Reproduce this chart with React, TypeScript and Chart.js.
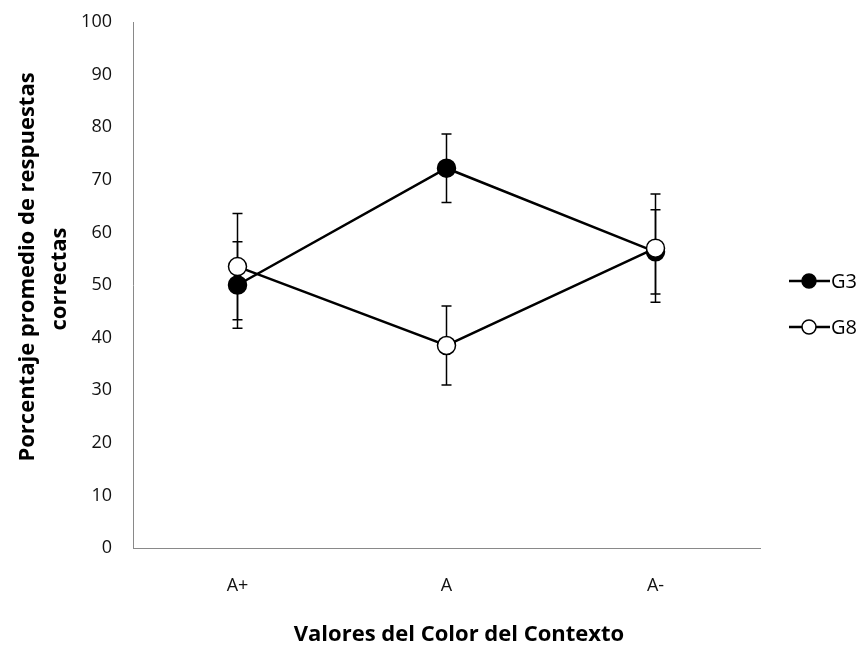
import React, { useEffect, useRef } from 'react';
import { Chart, registerables } from 'chart.js';

Chart.register(...registerables);

const categories = ['A+', 'A', 'A-'];
const seriesNames = ['G3', 'G8'];
const g3Values = [50, 72.2, 56.3];
const g3Errors = [8.2, 6.5, 8.0];
const g8Values = [53.5, 38.5, 57.0];
const g8Errors = [10.1, 7.5, 10.3];
const yMin = 0;
const yMax = 100;
const yStep = 10;
const xTitle = 'Valores del Color del Contexto';
const yTitleLines = ['Porcentaje promedio de respuestas', 'correctas'];

const FONT = "'Open Sans', 'Noto Sans', sans-serif";

const errorBarsPlugin = {
  id: 'errorBars',
  beforeDatasetsDraw(chart: any) {
    const ctx = chart.ctx;
    const yScale = chart.scales.y;
    const errs = [g3Errors, g8Errors];
    ctx.save();
    ctx.strokeStyle = '#000';
    ctx.lineWidth = 1.5;
    chart.data.datasets.forEach((ds: any, di: number) => {
      const meta = chart.getDatasetMeta(di);
      meta.data.forEach((pt: any, i: number) => {
        const v = ds.data[i];
        const e = errs[di][i];
        const x = pt.x;
        const yt = yScale.getPixelForValue(v + e);
        const yb = yScale.getPixelForValue(v - e);
        ctx.beginPath();
        ctx.moveTo(x, yt);
        ctx.lineTo(x, yb);
        ctx.moveTo(x - 5, yt);
        ctx.lineTo(x + 5, yt);
        ctx.moveTo(x - 5, yb);
        ctx.lineTo(x + 5, yb);
        ctx.stroke();
      });
    });
    ctx.restore();
  },
};

const titlesLegendPlugin = {
  id: 'titlesLegend',
  afterDraw(chart: any) {
    const ctx = chart.ctx;
    ctx.save();
    ctx.fillStyle = '#000';
    // x title
    ctx.font = `bold 22px ${FONT}`;
    ctx.textAlign = 'center';
    ctx.textBaseline = 'alphabetic';
    ctx.fillText(xTitle, 459, 641);
    // y title
    const yLinePos = [
      { x: 34, y: 267 },
      { x: 66, y: 279 },
    ];
    yTitleLines.forEach((t, i) => {
      ctx.save();
      ctx.translate(yLinePos[i].x, yLinePos[i].y);
      ctx.rotate(-Math.PI / 2);
      ctx.fillText(t, 0, 0);
      ctx.restore();
    });
    // legend
    const legendY = [281, 327];
    chart.data.datasets.forEach((ds: any, i: number) => {
      const y = legendY[i];
      ctx.strokeStyle = '#000';
      ctx.lineWidth = 2.5;
      ctx.beginPath();
      ctx.moveTo(789, y);
      ctx.lineTo(830, y);
      ctx.stroke();
      ctx.beginPath();
      ctx.arc(809, y, 7, 0, Math.PI * 2);
      ctx.fillStyle = ds.pointBackgroundColor;
      ctx.fill();
      ctx.lineWidth = 1.5;
      ctx.stroke();
      ctx.fillStyle = '#000';
      ctx.font = `20px ${FONT}`;
      ctx.textAlign = 'left';
      ctx.textBaseline = 'middle';
      ctx.fillText(ds.label, 831, y + 1);
    });
    ctx.restore();
  },
};

export default function App() {
  const canvasRef = useRef<HTMLCanvasElement | null>(null);

  useEffect(() => {
    if (!canvasRef.current) return;
    const chart = new Chart(canvasRef.current, {
      type: 'line',
      data: {
        labels: categories,
        datasets: [
          {
            label: seriesNames[0],
            data: g3Values,
            borderColor: '#000',
            borderWidth: 2.5,
            pointBackgroundColor: '#000',
            pointBorderColor: '#000',
            pointBorderWidth: 1.5,
            pointRadius: 9,
            order: 1,
          },
          {
            label: seriesNames[1],
            data: g8Values,
            borderColor: '#000',
            borderWidth: 2.5,
            pointBackgroundColor: '#fff',
            pointBorderColor: '#000',
            pointBorderWidth: 1.5,
            pointRadius: 9,
            order: 0,
          },
        ],
      },
      options: {
        responsive: false,
        animation: false,
        layout: { padding: { left: 0, right: 105, top: 22, bottom: 0 } },
        plugins: { legend: { display: false }, tooltip: { enabled: false } },
        scales: {
          x: {
            offset: true,
            grid: { display: false, drawTicks: false },
            border: { display: true, color: '#898989', width: 1 },
            ticks: { color: '#111', font: { family: FONT, size: 18 }, padding: 27 },
            afterFit(scale: any) {
              scale.height = 98;
            },
          },
          y: {
            min: yMin,
            max: yMax,
            grid: {
              display: true,
              drawOnChartArea: false,
              drawTicks: true,
              tickLength: 21,
              tickColor: 'rgba(0,0,0,0)',
            },
            border: { display: true, color: '#898989', width: 1 },
            ticks: { stepSize: yStep, color: '#111', font: { family: FONT, size: 18 }, padding: 0 },
            afterFit(scale: any) {
              scale.width = 133;
            },
          },
        },
      },
      plugins: [errorBarsPlugin, titlesLegendPlugin],
    });
    return () => chart.destroy();
  }, []);

  return (
    <div style={{ position: 'absolute', left: 0, top: 0, width: 865, height: 646, background: '#fff' }}>
      <canvas ref={canvasRef} width={865} height={646} style={{ display: 'block' }} />
    </div>
  );
}
